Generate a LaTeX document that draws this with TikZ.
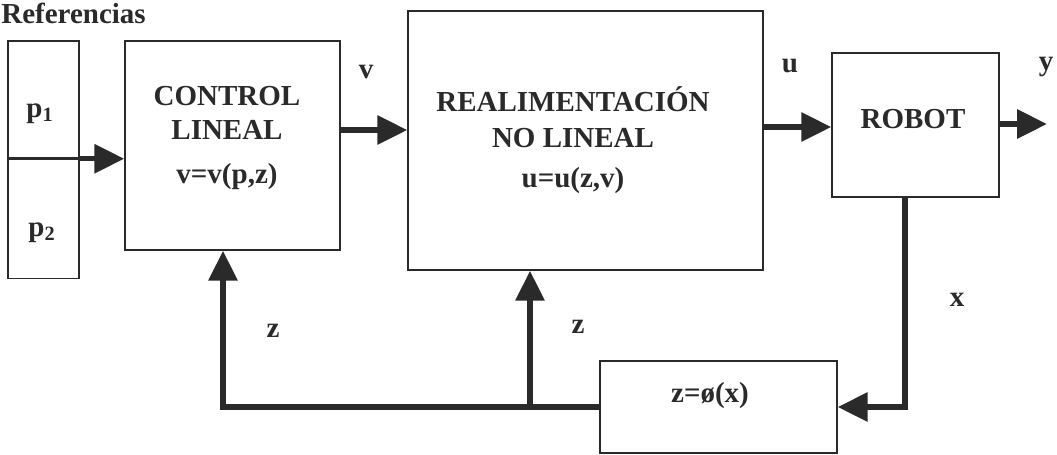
\documentclass[tikz,border=0pt]{standalone}
\usepackage{fontspec}
\setmainfont{Liberation Serif}
\usepackage{tikz}
\usetikzlibrary{arrows.meta, positioning, calc}
\definecolor{ink}{HTML}{2A2A2A}
\tikzset{%
    block/.style={%
        draw=ink, line width=0.85pt, inner sep=0
    },
    sigline/.style={%
        draw=ink, line width=3.1pt
    },
    sig/.style={%
        sigline, -{Triangle[length=17pt, width=16pt]}
    },
    lbl/.style={%
        text=ink, font=\bfseries\fontsize{16.5}{19.5}\selectfont, anchor=base, inner sep=0
    },
}

\begin{document}
\begin{tikzpicture}[x=0.02cm, y=-0.02cm]
    \useasboundingbox (0,0) rectangle (1057,454);
    \fill[white] (0,0) rectangle (1057,454);

    % bloques
    \node[block, minimum width=1.42cm, minimum height=2.34cm] (p1) at (43.5,99.5) {};
    \node[block, minimum width=1.42cm, minimum height=2.38cm, below=0pt of p1] (p2) {};
    \node[block, minimum width=4.3cm, minimum height=4.18cm] (control) at (232.5,145.5) {};
    \node[block, minimum width=7.1cm, minimum height=5.18cm] (realim) at (585.5,140.5) {};
    \node[block, minimum width=3.34cm, minimum height=2.88cm] (robot) at (915.5,125) {};
    \node[block, minimum width=4.74cm, minimum height=1.84cm] (zbox) at (718.5,407) {};

    % textos (la base es la de la ultima linea)
    \node[lbl, anchor=base west] (titulo) at (1,23) {Referencias};
    \node[lbl] (tp1) at (40,117) {p\textsubscript{1}};
    \node[lbl] (tp2) at (42,236) {p\textsubscript{2}};
    \node[lbl, align=center] (tcontrol) at (227,183) {CONTROL\\LINEAL\\[5pt]v=v(p,z)};
    \node[lbl, align=center] (trealim) at (573,187) {REALIMENTACIÓN\\[1pt]NO LINEAL\\[3pt]u=u(z,v)};
    \node[lbl] (trobot) at (913,128) {ROBOT};
    \node[lbl] (tzbox) at (710,402) {z=ø(x)};

    \node[lbl] (lv) at (366,78) {v};
    \node[lbl] (lu) at (790,72) {u};
    \node[lbl] (ly) at (1046,70) {y};
    \node[lbl] (lx) at (957,306) {x};
    \node[lbl] (lz1) at (273,337) {z};
    \node[lbl] (lz2) at (578,333) {z};

    % conexiones
    \coordinate (vout) at (340,130);
    \coordinate (uout) at (763,127);
    \coordinate (yend) at (1047,124);
    \coordinate (xout) at (905,197);
    \coordinate (zend) at (223,407);
    \coordinate (zsplit) at (530,407);

    \draw[sig] (p1.south east) -- (p1.south east -| control.west);
    \draw[sig] (vout) -- (vout -| realim.west);
    \draw[sig] (uout) -- (uout -| robot.west);
    \draw[sig] (robot.east |- yend) -- (yend);
    \draw[sig] (xout) |- (zbox.east);
    \draw[sig] (zbox.west) -- (zend) -- (zend |- control.south);
    \draw[sig] (zsplit) -- (zsplit |- realim.south);
\end{tikzpicture}
\end{document}
